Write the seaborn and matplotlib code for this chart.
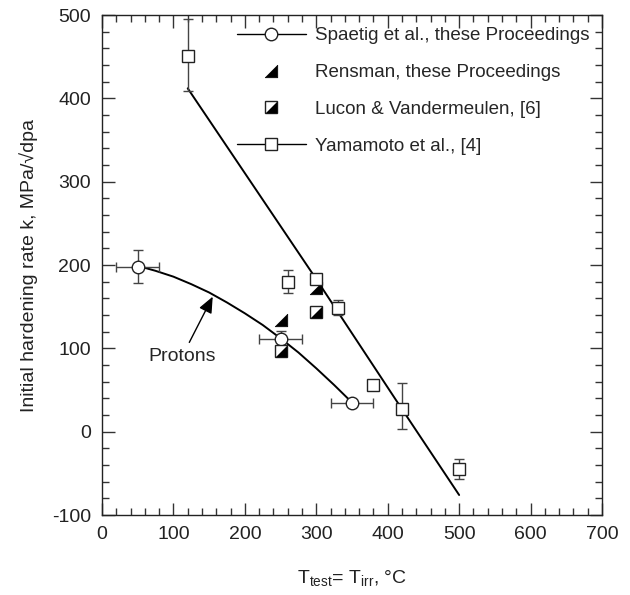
import matplotlib
matplotlib.use("Agg")
import matplotlib.pyplot as plt
from matplotlib.path import Path
from matplotlib.legend_handler import HandlerTuple
from matplotlib.lines import Line2D
from matplotlib.ticker import MultipleLocator
import seaborn as sns

# Spaetig et al. (protons)
spaetig_T = [50, 250, 350]
spaetig_k = [198, 111, 34]
spaetig_xerr = [30, 30, 30]
spaetig_yerr = [20, 10, 0]
# fitted curve
spaetig_fit_T = [50, 75, 100, 125, 150, 175, 200, 225, 250, 275, 300, 325, 350]
spaetig_fit_k = [199, 193, 186, 177, 167, 155, 142, 128, 112, 95, 76, 56, 35]

# Rensman
rensman_T = [250, 300]
rensman_k = [134, 172]

# Lucon & Vandermeulen
lucon_T = [250, 300]
lucon_k = [97, 144]

# Yamamoto et al.
yama_T = [120, 260, 300, 330, 380, 420, 500]
yama_k = [451, 180, 183, 149, 56, 27, -45]
yama_err_up = [44, 14, 0, 9, 0, 32, 12]
yama_err_lo = [42, 14, 0, 9, 0, 24, 12]
yama_fit_T = [120, 300, 420, 500]
yama_fit_k = [412, 183, 27, -76]

sns.set_style("ticks")
plt.rcParams['font.family'] = ['Liberation Sans', 'DejaVu Sans']
plt.rcParams['mathtext.default'] = 'regular'
plt.rcParams['axes.unicode_minus'] = False

fig = plt.figure(figsize=(6.3, 5.95), dpi=100)
ax = fig.add_axes([102 / 630, 1 - 515 / 595, 500 / 630, 500 / 595])

# right-angle triangle marker (black lower-right half)
tri = Path([(1, -1), (1, 1), (-1, -1), (1, -1)],
           [Path.MOVETO, Path.LINETO, Path.LINETO, Path.CLOSEPOLY])

sns.lineplot(x=spaetig_fit_T, y=spaetig_fit_k, color="black", lw=1.4, sort=False,
             estimator=None, ax=ax, zorder=2)
sns.lineplot(x=yama_fit_T, y=yama_fit_k, color="black", lw=1.4, sort=False,
             estimator=None, ax=ax, zorder=2)

ecol = "#444444"
ax.errorbar(spaetig_T, spaetig_k, xerr=spaetig_xerr, yerr=spaetig_yerr, fmt="none",
            ecolor=ecol, elinewidth=1, capsize=3.5, capthick=1, zorder=3)
ax.errorbar(yama_T, yama_k, yerr=[yama_err_lo, yama_err_up], fmt="none",
            ecolor=ecol, elinewidth=1, capsize=3.5, capthick=1, zorder=3)

ax.plot(rensman_T, rensman_k, ls="none", marker=tri, ms=9, mfc="black", mec="black",
        mew=0.5, zorder=4)
ax.plot(yama_T, yama_k, ls="none", marker="s", ms=8.5, mfc="white", mec="#222222",
        mew=1, zorder=5)
ax.plot(spaetig_T, spaetig_k, ls="none", marker="o", ms=9, mfc="white", mec="#222222",
        mew=1, zorder=5)
ax.plot(lucon_T, lucon_k, ls="none", marker="s", ms=8.5, mfc="white", mec="#222222",
        mew=1, zorder=6)
ax.plot(lucon_T, lucon_k, ls="none", marker=tri, ms=8.5, mfc="black", mec="black",
        mew=0, zorder=7)

ax.annotate("Protons", xy=(155, 162), xytext=(112, 90), ha="center", va="center",
            fontsize=14,
            arrowprops=dict(arrowstyle="-|>,head_length=0.7,head_width=0.3",
                            color="black", lw=1, shrinkA=2, shrinkB=0))

ax.set_xlim(0, 700)
ax.set_ylim(-100, 500)
ax.xaxis.set_major_locator(MultipleLocator(100))
ax.xaxis.set_minor_locator(MultipleLocator(20))
ax.yaxis.set_major_locator(MultipleLocator(100))
ax.yaxis.set_minor_locator(MultipleLocator(20))
ax.tick_params(which="both", direction="in", top=True, right=True, color="#333333",
               width=1, labelsize=14, pad=8, labelcolor="#222222")
ax.tick_params(which="major", length=9)
ax.tick_params(which="minor", length=5)
for s in ax.spines.values():
    s.set_linewidth(1)
    s.set_color("#222222")

ax.set_xlabel(r"T$_{test}$= T$_{irr}$, °C", fontsize=14, labelpad=18, color="#222222")
ax.set_ylabel("Initial hardening rate k, MPa/\u221Adpa", fontsize=14, labelpad=10,
              color="#222222")

h_sp = Line2D([], [], color="black", lw=1, marker="o", ms=9, mfc="white", mec="#222222")
h_re = Line2D([], [], ls="none", marker=tri, ms=9, mfc="black", mec="black", mew=0.5)
h_lu_sq = Line2D([], [], ls="none", marker="s", ms=8.5, mfc="white", mec="#222222")
h_lu_tr = Line2D([], [], ls="none", marker=tri, ms=8.5, mfc="black", mec="black", mew=0)
h_ya = Line2D([], [], color="black", lw=1, marker="s", ms=8.5, mfc="white", mec="#222222")
ax.legend([h_sp, h_re, (h_lu_sq, h_lu_tr), h_ya],
          ["Spaetig et al., these Proceedings", "Rensman, these Proceedings",
           "Lucon & Vandermeulen, [6]", "Yamamoto et al., [4]"],
          handler_map={tuple: HandlerTuple(ndivide=1, pad=0)},
          loc="upper right", bbox_to_anchor=(1.0, 1.0), frameon=False, fontsize=13.5,
          handlelength=3.7, handletextpad=0.5, labelspacing=1.05, borderaxespad=0.25)

fig.savefig("out.png", dpi=100)
